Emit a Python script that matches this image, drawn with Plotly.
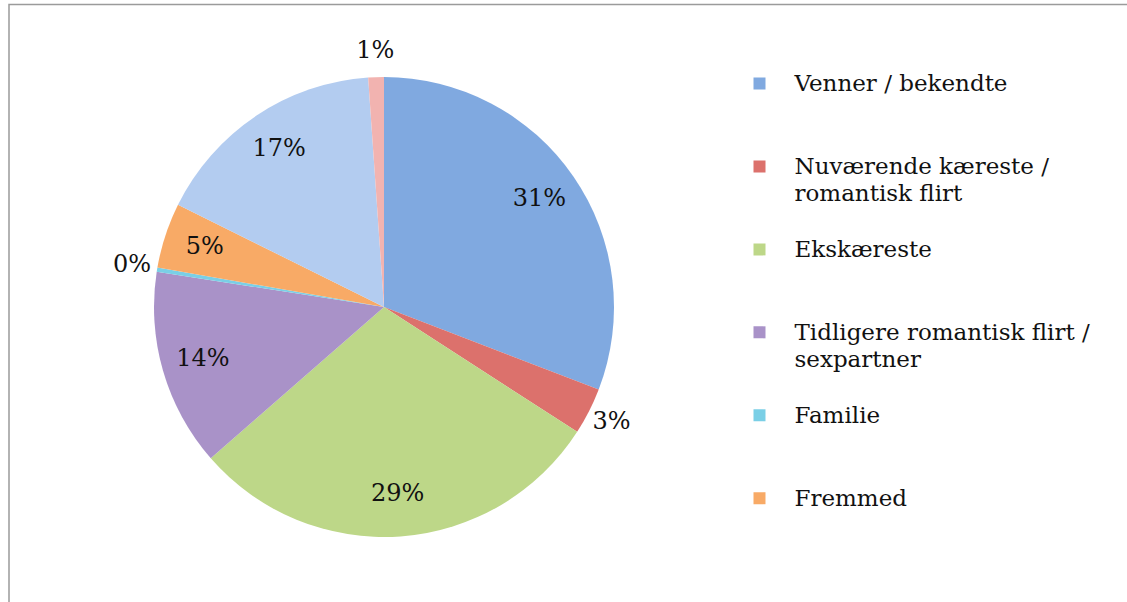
import plotly.graph_objects as go

# Slice shares (percent of the whole), clockwise from 12 o'clock
labels = [
    "Venner / bekendte",
    "Nuværende kæreste / romantisk flirt",
    "Ekskæreste",
    "Tidligere romantisk flirt / sexpartner",
    "Familie",
    "Fremmed",
    "Andet",
    "Ved ikke",
]
values = [30.9, 3.3, 29.5, 13.9, 0.3, 4.6, 16.6, 1.1]
colors = ["#80A9E0", "#DC716C", "#BDD788", "#A992C8", "#7ACFE6", "#F8AA66", "#B3CCF0", "#F2B3B0"]

# Legend texts as shown (the last two entries are cut off in the reference)
legend_lines = [
    ["Venner / bekendte"],
    ["Nuværende kæreste /", "romantisk flirt"],
    ["Ekskæreste"],
    ["Tidligere romantisk flirt /", "sexpartner"],
    ["Familie"],
    ["Fremmed"],
]

W, H = 1127, 602
FONT = "DejaVu Serif"

# pie geometry (pixels): centre and radius; radial axis extends beyond the pie for outside labels
CX, CY, R = 384, 307, 230
RMAX = 1.16
RP = R * RMAX

total = sum(values)
shares = [v / total for v in values]
spans = [s * 360 for s in shares]
mids = []
acc = 0.0
for s in spans:
    mids.append(acc + s / 2)
    acc += s
pct_text = ["%d%%" % round(s * 100) for s in shares]
label_r = [0.82 if s >= 0.045 else 1.11 for s in shares]


def legend_text(lines, total_lines=3):
    parts = ['<span style="font-size:23px">%s</span>' % ln for ln in lines]
    parts += [" "] * (total_lines - len(lines))
    return "<br>".join(parts)


fig = go.Figure()

for i, lab in enumerate(labels):
    in_legend = i < len(legend_lines)
    fig.add_trace(go.Barpolar(
        r=[1],
        theta=[mids[i]],
        width=[spans[i]],
        marker=dict(color=colors[i], line=dict(width=0)),
        name=legend_text(legend_lines[i]) if in_legend else lab,
        showlegend=in_legend,
        hovertext=[lab],
        hoverinfo="text",
    ))

fig.add_trace(go.Scatterpolar(
    r=label_r,
    theta=mids,
    mode="text",
    text=pct_text,
    textfont=dict(family=FONT, size=24, color="#111111"),
    cliponaxis=False,
    showlegend=False,
    hoverinfo="skip",
))

# chart border (partly cut off like in the reference)
fig.add_shape(
    type="rect", xref="paper", yref="paper",
    x0=9 / W, x1=1.05, y0=-0.05, y1=1 - 4.5 / H,
    line=dict(color="#9b9b9b", width=1.5), fillcolor="rgba(0,0,0,0)",
)

fig.update_layout(
    width=W, height=H,
    margin=dict(l=0, r=0, t=0, b=0, autoexpand=False),
    paper_bgcolor="white",
    plot_bgcolor="white",
    showlegend=True,
    polar=dict(
        domain=dict(x=[(CX - RP) / W, (CX + RP) / W],
                    y=[1 - (CY + RP) / H, 1 - (CY - RP) / H]),
        bgcolor="rgba(0,0,0,0)",
        hole=0,
        bargap=0,
        radialaxis=dict(visible=False, range=[0, RMAX], showgrid=False, showline=False, ticks=""),
        angularaxis=dict(visible=False, rotation=90, direction="clockwise",
                         showgrid=False, showline=False, ticks=""),
    ),
    legend=dict(
        x=724.5 / W, xanchor="left",
        y=1 - 63.65 / H, yanchor="top",
        font=dict(family=FONT, size=20.5, color="#111111"),
        itemwidth=60,
        valign="top",
        bgcolor="rgba(0,0,0,0)",
        borderwidth=0,
        traceorder="normal",
    ),
)

fig.write_html(
    "out.html",
    config={"displayModeBar": False},
    post_script="document.body.style.margin='0';document.body.style.overflow='hidden';",
)
